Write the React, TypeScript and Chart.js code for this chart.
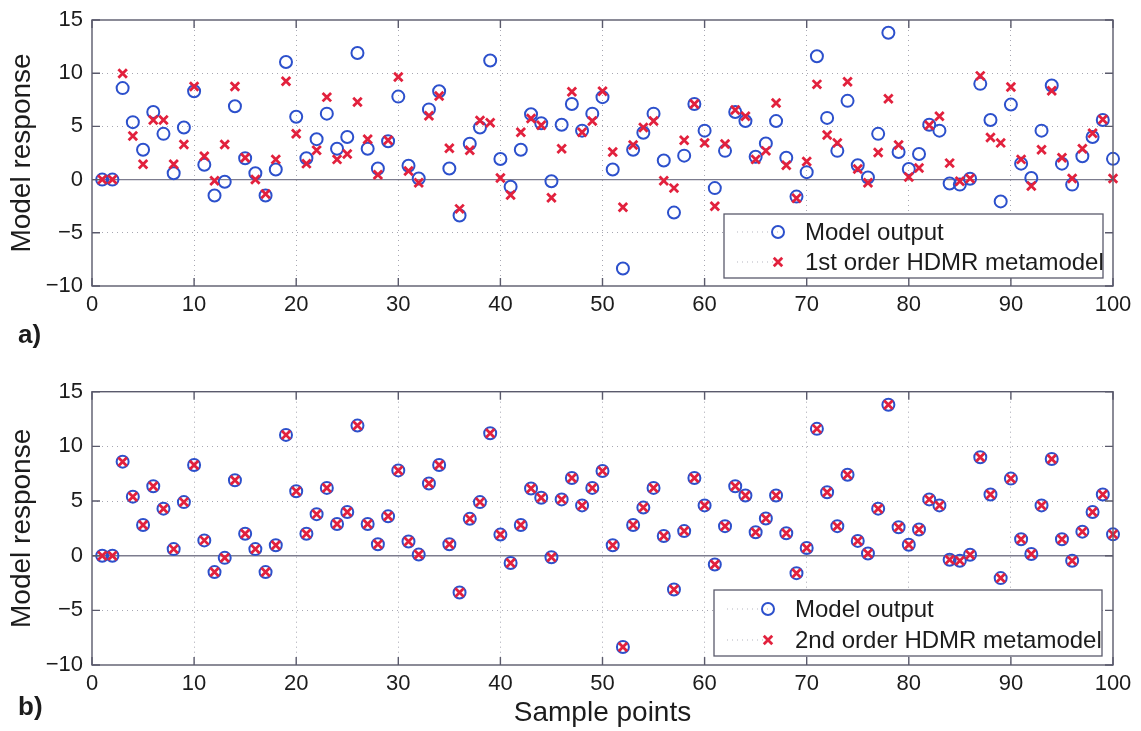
import React, { useEffect, useRef } from "react";
import { Chart, registerables } from "chart.js";

Chart.register(...registerables);

const FONT = "'Liberation Sans', Arial, Helvetica, sans-serif";
const BLUE = "#2c50cc";
const RED = "#e2213d";
const INK = "#1c1c1c";
const FRAME = "#5a5a6c";
const GRID = "rgba(95, 95, 115, 0.55)";

// Sample numbers along the x axis
const sampleIndex = Array.from({ length: 100 }, (_, i) => i + 1);

// Response of the full model at each sample point
const modelOutput = [
  0, 0, 8.6, 5.4, 2.8, 6.35, 4.3, 0.6, 4.9, 8.3,
  1.4, -1.5, -0.2, 6.9, 2.0, 0.6, -1.5, 0.95, 11.05, 5.9,
  2.0, 3.8, 6.2, 2.9, 4.0, 11.9, 2.9, 1.05, 3.6, 7.8,
  1.3, 0.1, 6.6, 8.3, 1.05, -3.37, 3.37, 4.9, 11.2, 1.93,
  -0.67, 2.8, 6.15, 5.3, -0.15, 5.15, 7.1, 4.6, 6.2, 7.75,
  0.95, -8.35, 2.8, 4.4, 6.2, 1.8, -3.1, 2.25, 7.1, 4.6,
  -0.8, 2.7, 6.35, 5.5, 2.15, 3.4, 5.5, 2.05, -1.6, 0.7,
  11.6, 5.8, 2.7, 7.4, 1.35, 0.2, 4.3, 13.8, 2.6, 1.0,
  2.4, 5.15, 4.6, -0.37, -0.47, 0.08, 9.0, 5.6, -2.05, 7.05,
  1.5, 0.15, 4.6, 8.85, 1.5, -0.47, 2.2, 4.0, 5.6, 1.95,
];

// 1st order HDMR metamodel prediction
const firstOrderHdmr = [
  0, 0, 9.97, 4.1, 1.45, 5.6, 5.6, 1.45, 3.3, 8.75,
  2.2, -0.1, 3.3, 8.75, 2.05, 0.0, -1.35, 1.9, 9.25, 4.3,
  1.5, 2.75, 7.75, 1.9, 2.4, 7.3, 3.8, 0.45, 3.7, 9.65,
  0.8, -0.3, 6.0, 7.85, 2.95, -2.75, 2.75, 5.55, 5.35, 0.15,
  -1.45, 4.45, 5.75, 5.1, -1.7, 2.9, 8.25, 4.45, 5.5, 8.3,
  2.6, -2.6, 3.25, 4.9, 5.5, -0.1, -0.8, 3.7, 7.1, 3.45,
  -2.5, 3.35, 6.55, 5.95, 1.9, 2.7, 7.2, 1.35, -1.75, 1.7,
  8.95, 4.2, 3.45, 9.2, 1.0, -0.3, 2.55, 7.6, 3.25, 0.25,
  1.1, 5.1, 5.95, 1.55, -0.15, 0.1, 9.75, 3.95, 3.45, 8.7,
  1.9, -0.6, 2.8, 8.35, 2.05, 0.1, 2.9, 4.35, 5.65, 0.1,
];

// 2nd order HDMR metamodel prediction
const secondOrderHdmr = [
  0, 0, 8.6, 5.4, 2.8, 6.35, 4.3, 0.6, 4.9, 8.3,
  1.4, -1.5, -0.2, 6.9, 2.0, 0.6, -1.5, 0.95, 11.05, 5.9,
  2.0, 3.8, 6.2, 2.9, 4.0, 11.9, 2.9, 1.05, 3.6, 7.8,
  1.3, 0.1, 6.6, 8.3, 1.05, -3.37, 3.37, 4.9, 11.2, 1.93,
  -0.67, 2.8, 6.15, 5.3, -0.15, 5.15, 7.1, 4.6, 6.2, 7.75,
  0.95, -8.35, 2.8, 4.4, 6.2, 1.8, -3.1, 2.25, 7.1, 4.6,
  -0.8, 2.7, 6.35, 5.5, 2.15, 3.4, 5.5, 2.05, -1.6, 0.7,
  11.6, 5.8, 2.7, 7.4, 1.35, 0.2, 4.3, 13.8, 2.6, 1.0,
  2.4, 5.15, 4.6, -0.37, -0.47, 0.08, 9.0, 5.6, -2.05, 7.05,
  1.5, 0.15, 4.6, 8.85, 1.5, -0.47, 2.2, 4.0, 5.6, 1.95,
];

const X_MIN = 0;
const X_MAX = 100;
const X_STEP = 10;
const Y_MIN = -10;
const Y_MAX = 15;
const Y_STEP = 5;

const CIRCLE_R = 6;
const CROSS_R = 6;

type LegendBox = {
  left: number;
  top: number;
  right: number;
  bottom: number;
  rowY: number[];
  lineX0: number;
  markerX: number;
  textX: number;
};

function drawCircleMarker(ctx: CanvasRenderingContext2D, x: number, y: number) {
  ctx.save();
  ctx.strokeStyle = BLUE;
  ctx.lineWidth = 2;
  ctx.beginPath();
  ctx.arc(x, y, CIRCLE_R, 0, Math.PI * 2);
  ctx.stroke();
  ctx.restore();
}

function drawCrossMarker(ctx: CanvasRenderingContext2D, x: number, y: number) {
  const d = CROSS_R * Math.SQRT1_2;
  ctx.save();
  ctx.strokeStyle = RED;
  ctx.lineWidth = 2.8;
  ctx.beginPath();
  ctx.moveTo(x - d, y - d);
  ctx.lineTo(x + d, y + d);
  ctx.moveTo(x + d, y - d);
  ctx.lineTo(x - d, y + d);
  ctx.stroke();
  ctx.restore();
}

function makeDecorPlugin(panelLabel: string, panelLabelY: number, legend: LegendBox) {
  return {
    id: "panelDecor",
    beforeDatasetsDraw(chart: any) {
      const { ctx, chartArea, scales } = chart;
      const y0 = scales.y.getPixelForValue(0);
      ctx.save();
      ctx.strokeStyle = "#7c7c8e";
      ctx.lineWidth = 1.4;
      ctx.beginPath();
      ctx.moveTo(chartArea.left, y0);
      ctx.lineTo(chartArea.right, y0);
      ctx.stroke();
      ctx.restore();
    },
    afterDraw(chart: any) {
      const { ctx, chartArea, scales } = chart;
      const { left, right, top, bottom } = chartArea;
      const tickLen = 8;
      ctx.save();
      ctx.strokeStyle = FRAME;
      ctx.lineWidth = 1.4;
      ctx.strokeRect(left, top, right - left, bottom - top);
      ctx.beginPath();
      scales.x.ticks.forEach((t: any) => {
        const px = scales.x.getPixelForValue(t.value);
        ctx.moveTo(px, bottom);
        ctx.lineTo(px, bottom - tickLen);
        ctx.moveTo(px, top);
        ctx.lineTo(px, top + tickLen);
      });
      scales.y.ticks.forEach((t: any) => {
        const py = scales.y.getPixelForValue(t.value);
        ctx.moveTo(left, py);
        ctx.lineTo(left + tickLen, py);
        ctx.moveTo(right, py);
        ctx.lineTo(right - tickLen, py);
      });
      ctx.stroke();

      // legend box
      ctx.fillStyle = "#ffffff";
      ctx.fillRect(legend.left, legend.top, legend.right - legend.left, legend.bottom - legend.top);
      ctx.strokeStyle = FRAME;
      ctx.lineWidth = 1.3;
      ctx.strokeRect(legend.left, legend.top, legend.right - legend.left, legend.bottom - legend.top);
      const sets = chart.data.datasets;
      legend.rowY.forEach((ry, i) => {
        ctx.save();
        ctx.strokeStyle = "rgba(120,120,140,0.55)";
        ctx.lineWidth = 1;
        ctx.setLineDash([1, 4]);
        ctx.beginPath();
        ctx.moveTo(legend.lineX0, ry);
        ctx.lineTo(legend.markerX, ry);
        ctx.stroke();
        ctx.restore();
        if (i === 0) drawCircleMarker(ctx, legend.markerX, ry);
        else drawCrossMarker(ctx, legend.markerX, ry);
        ctx.fillStyle = INK;
        ctx.font = `24px ${FONT}`;
        ctx.textAlign = "left";
        ctx.textBaseline = "middle";
        ctx.fillText(sets[i].label, legend.textX, ry + 1);
      });

      // panel letter
      ctx.fillStyle = INK;
      ctx.font = `bold 26px ${FONT}`;
      ctx.textAlign = "left";
      ctx.textBaseline = "alphabetic";
      ctx.fillText(panelLabel, 18, panelLabelY);
      ctx.restore();
    },
  };
}

type PanelProps = {
  top: number;
  height: number;
  padTop: number;
  xAxisHeight: number;
  metaLabel: string;
  metaValues: number[];
  xTitle: string;
  panelLabel: string;
  panelLabelY: number;
  legend: LegendBox;
};

function Panel(props: PanelProps) {
  const ref = useRef<HTMLCanvasElement>(null);

  useEffect(() => {
    const canvas = ref.current;
    if (!canvas) return;
    const gridColor = (ctx: any) => {
      const v = ctx.tick ? ctx.tick.value : null;
      const sc = ctx.scale;
      if (v === null || v === sc.min || v === sc.max || (v === 0 && sc.axis === "y")) return "rgba(0,0,0,0)";
      return GRID;
    };
    const chart = new Chart(canvas, {
      type: "scatter",
      data: {
        datasets: [
          {
            label: "Model output",
            data: sampleIndex.map((s, i) => ({ x: s, y: modelOutput[i] })),
            order: 2,
            pointStyle: "circle",
            pointRadius: CIRCLE_R,
            pointHoverRadius: CIRCLE_R,
            pointBorderWidth: 2,
            borderColor: BLUE,
            backgroundColor: "rgba(0,0,0,0)",
            clip: false,
          },
          {
            label: props.metaLabel,
            data: sampleIndex.map((s, i) => ({ x: s, y: props.metaValues[i] })),
            order: 1,
            pointStyle: "crossRot",
            pointRadius: CROSS_R,
            pointHoverRadius: CROSS_R,
            pointBorderWidth: 2.8,
            borderColor: RED,
            backgroundColor: RED,
            clip: false,
          },
        ],
      },
      options: {
        responsive: false,
        animation: false,
        devicePixelRatio: 1,
        events: [],
        layout: { padding: { top: props.padTop, right: 28, left: 0, bottom: 0 } },
        plugins: { legend: { display: false }, tooltip: { enabled: false } },
        scales: {
          x: {
            type: "linear",
            min: X_MIN,
            max: X_MAX,
            afterFit: (s: any) => {
              s.height = props.xAxisHeight;
            },
            ticks: {
              stepSize: X_STEP,
              padding: 8,
              maxRotation: 0,
              color: INK,
              font: { family: FONT, size: 22, lineHeight: 1 },
            },
            grid: { color: gridColor, lineWidth: 1, drawTicks: false },
            border: { display: false, dash: [1, 4] },
            title: {
              display: props.xTitle !== "",
              text: props.xTitle,
              color: INK,
              font: { family: FONT, size: 28 },
              padding: { top: 0, bottom: 1 },
            },
          },
          y: {
            type: "linear",
            min: Y_MIN,
            max: Y_MAX,
            afterFit: (s: any) => {
              s.width = 92;
            },
            ticks: {
              stepSize: Y_STEP,
              padding: 9,
              color: INK,
              font: { family: FONT, size: 22, lineHeight: 1 },
              callback: (v: any) => (Number(v) < 0 ? "\u2212" + Math.abs(Number(v)) : String(v)),
            },
            grid: { color: gridColor, lineWidth: 1, drawTicks: false },
            border: { display: false, dash: [1, 4] },
            title: {
              display: true,
              text: "Model response",
              color: INK,
              font: { family: FONT, size: 28 },
              padding: { top: 5, bottom: 0 },
            },
          },
        },
      },
      plugins: [makeDecorPlugin(props.panelLabel, props.panelLabelY, props.legend)],
    } as any);
    return () => chart.destroy();
  }, []);

  return (
    <canvas
      ref={ref}
      width={1141}
      height={props.height}
      style={{ position: "absolute", left: 0, top: props.top, width: 1141, height: props.height }}
    />
  );
}

export default function App() {
  return (
    <div style={{ position: "absolute", left: 0, top: 0, width: 1141, height: 731, background: "#ffffff", overflow: "hidden" }}>
      <Panel
        top={0}
        height={365}
        padTop={12.6}
        xAxisHeight={79}
        metaLabel="1st order HDMR metamodel"
        metaValues={firstOrderHdmr}
        xTitle=""
        panelLabel="a)"
        panelLabelY={343}
        legend={{ left: 724, top: 214, right: 1103, bottom: 278, rowY: [232, 262], lineX0: 737, markerX: 778, textX: 805 }}
      />
      <Panel
        top={365}
        height={366}
        padTop={26.7}
        xAxisHeight={66}
        metaLabel="2nd order HDMR metamodel"
        metaValues={secondOrderHdmr}
        xTitle="Sample points"
        panelLabel="b)"
        panelLabelY={350}
        legend={{ left: 714, top: 225, right: 1102, bottom: 291, rowY: [244, 275], lineX0: 727, markerX: 768, textX: 795 }}
      />
    </div>
  );
}
